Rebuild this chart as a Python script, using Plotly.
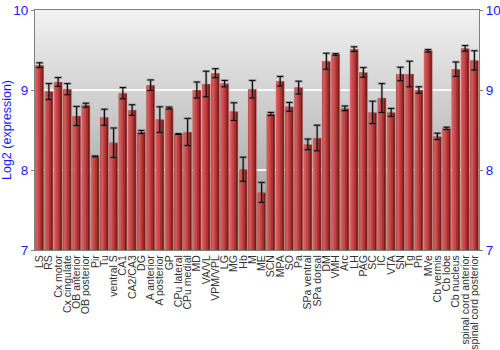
import plotly.graph_objects as go

categories = ["LS", "RS", "Cx motor", "Cx cingulate", "OB anterior", "OB posterior", "Pir", "Tu",
              "ventral S", "CA1", "CA2/CA3", "DG", "A anterior", "A posterior", "GP", "CPu lateral",
              "CPu medial", "MD", "VA/VL", "VPM/VPL", "LG", "MG", "Hb", "M", "ME", "SCN", "MPA", "SO",
              "Pa", "SPa ventral", "SPa dorsal", "DM", "VMH", "Arc", "LH", "PAG", "SC", "IC", "VTA",
              "SN", "Tg", "Pn", "MVe", "Cb vermis", "Cb lobe", "Cb nucleus", "spinal cord anterior",
              "spinal cord posterior"]

values = [9.31, 8.98, 9.10, 9.01, 8.675, 8.81, 8.17, 8.66,
          8.34, 8.96, 8.75, 8.475, 9.06, 8.63, 8.775, 8.45,
          8.475, 9.00, 9.075, 9.21, 9.08, 8.73, 8.01, 9.01, 7.72, 8.70, 9.11, 8.79,
          9.03, 8.32, 8.40, 9.36, 9.445, 8.77, 9.51, 9.22, 8.72, 8.90, 8.72,
          9.20, 9.20, 9.00, 9.49, 8.42, 8.52, 9.26, 9.52,
          9.37]

errors = [0.03, 0.10, 0.055, 0.07, 0.12, 0.025, 0.005, 0.10,
          0.185, 0.07, 0.066, 0.02, 0.066, 0.16, 0.012, 0.004,
          0.17, 0.10, 0.16, 0.056, 0.04, 0.11, 0.15, 0.11, 0.125, 0.02, 0.06, 0.055,
          0.08, 0.067, 0.16, 0.10, 0.01, 0.03, 0.03, 0.06, 0.14, 0.18, 0.05,
          0.085, 0.16, 0.04, 0.015, 0.04, 0.015, 0.09, 0.035,
          0.12]

y_ticks = [7, 8, 9, 10]

fig = go.Figure()

# bar layers to mimic horizontal gradient
layers = [
    ("#7a1a1a", -0.45, 0.90),
    ("#a83030", -0.42, 0.66),
    ("#c44646", -0.38, 0.40),
    ("#cf5858", -0.36, 0.16),
]
for color, off, w in layers:
    fig.add_trace(go.Bar(
        x=categories, y=values, marker=dict(color=color, line=dict(width=0)),
        offset=off, width=w, hoverinfo="skip", showlegend=False))

# translucent outline
fig.add_trace(go.Bar(
    x=categories, y=values, offset=-0.45, width=0.9,
    marker=dict(color="rgba(0,0,0,0)", line=dict(color="rgba(230,150,150,0.45)", width=1)),
    hoverinfo="skip", showlegend=False))

# error bar halo
fig.add_trace(go.Scatter(
    x=categories, y=values, mode="markers", marker=dict(size=0, opacity=0),
    error_y=dict(type="data", array=errors, color="rgba(90,90,90,0.45)", thickness=2.5, width=4),
    hoverinfo="skip", showlegend=False))
# error bars
fig.add_trace(go.Scatter(
    x=categories, y=values, mode="markers", marker=dict(size=0, opacity=0),
    error_y=dict(type="data", array=errors, color="black", thickness=1, width=3),
    hoverinfo="skip", showlegend=False))

# dummy trace for right axis
fig.add_trace(go.Scatter(x=[categories[0]], y=[7], yaxis="y2", mode="markers",
                         marker=dict(opacity=0), hoverinfo="skip", showlegend=False))

# vertical background gradient
n = 120
top = (242, 242, 242)
bot = (150, 150, 150)
shapes = []
for i in range(n):
    t = i / (n - 1)
    c = tuple(int(round(top[k] + (bot[k] - top[k]) * t)) for k in range(3))
    shapes.append(dict(type="rect", xref="x domain", yref="y domain",
                       x0=0, x1=1, y0=1 - (i + 1) / n, y1=1 - i / n,
                       fillcolor="rgb(%d,%d,%d)" % c, line=dict(width=0), layer="below"))

font = "Liberation Sans, Arial, sans-serif"
axis_common = dict(range=[7, 10], tickvals=y_ticks, ticks="outside", ticklen=3,
                   tickcolor="#808080", tickfont=dict(family=font, size=13.5, color="#1a1aff"),
                   showline=True, linecolor="#808080", linewidth=1, automargin=False)

fig.update_layout(
    width=500, height=350,
    margin=dict(l=35, r=21, t=10, b=100),
    paper_bgcolor="white", plot_bgcolor="#c8c8c8",
    barmode="overlay",
    shapes=shapes,
    xaxis=dict(tickangle=-90, tickfont=dict(family=font, size=10.5, color="#333333"),
               tickmode="array", tickvals=categories, ticktext=categories,
               showline=True, linecolor="#808080", mirror=True, ticks="", showgrid=False,
               automargin=False, range=[-0.5, len(categories) - 0.5]),
    yaxis=dict(**axis_common, showgrid=True, gridcolor="rgba(255,255,255,0.85)", gridwidth=1.5,
               zeroline=False,
               title=dict(text="Log2 (expression)", font=dict(family=font, size=12.5, color="#1a1aff"),
                          standoff=4)),
    yaxis2=dict(**axis_common, overlaying="y", side="right", showgrid=False, zeroline=False),
)

fig.write_html("out.html")
